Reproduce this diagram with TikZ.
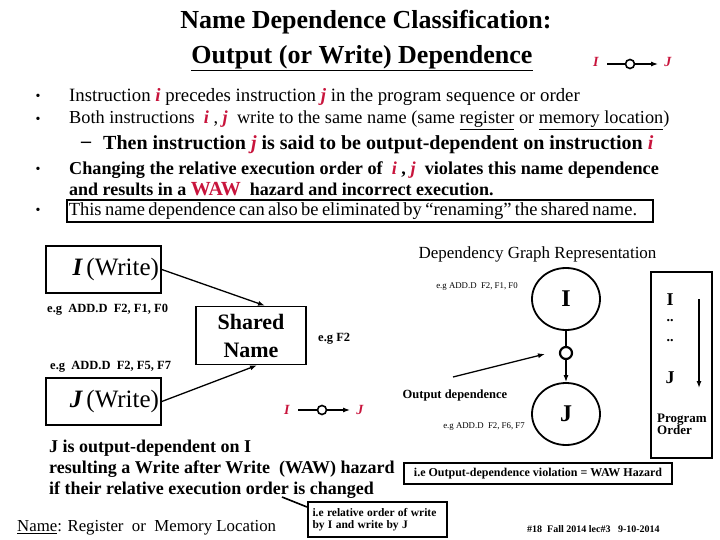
\documentclass[tikz,border=0pt]{standalone}
\usepackage{fontspec}
\setmainfont{Liberation Serif}
\usetikzlibrary{arrows.meta,shapes.geometric,calc}
\definecolor{hred}{RGB}{200,20,60}
\newcommand{\rd}[1]{\textcolor{hred}{\textbf{\textit{#1}}}}
\newcommand{\fs}[1]{\fontsize{#1}{#1}\selectfont}
\tikzset{
  txt/.style={inner sep=0pt, anchor=west},
  boxed/.style={draw, line width=1.6pt, inner sep=0pt},
  arr/.style={-{Latex[length=7pt,width=5pt]}, line width=1.3pt},
  smallo/.style={circle, draw, line width=1.6pt, inner sep=0pt, minimum size=9pt},
  bignode/.style={ellipse, draw, line width=1.8pt, inner sep=0pt, minimum width=68pt, minimum height=62pt, font=\fs{24}\bfseries},
}
\begin{document}
\begin{tikzpicture}[x=1pt,y=-1pt]
\useasboundingbox (0,0) rectangle (720,540);
% title
\node[inner sep=0pt] (t1) at (366,22) {\fs{26}\bfseries Name Dependence Classification:};
\node[inner sep=0pt] (t2) at (362,58) {\fs{26}\bfseries \underline{Output (or Write) Dependence}};
% top glyph
\node[inner sep=0pt] (ti) at (596,62) {\fs{14}\rd{I}};
\node[inner sep=0pt] (tj) at (668,62) {\fs{14}\rd{J}};
\node[smallo] (tc) at (630,64) {};
\draw[line width=1.3pt] ($(ti.east)+(8,2)$) -- (tc);
\draw[arr] (tc) -- ($(tj.west)+(-6,2)$);
% bullets
\node[inner sep=0pt] (b1) at (38,97) {\fs{14}•};
\node[txt] (l1) at (69,97) {\fs{18.8}Instruction \rd{i} precedes instruction \rd{j} in the program sequence or order};
\node[inner sep=0pt] (b2) at (38,120) {\fs{14}•};
\node[txt] (l2) at (69,120) {\fs{18.3}Both instructions \ \rd{i} , \rd{j} \ write to the same name (same \underline{register} or \underline{memory location})};
\node[inner sep=0pt] (b3) at (86,145) {\fs{20}\bfseries –};
\node[txt] (l3) at (103,145) {\fs{20}\bfseries Then instruction \rd{j} is said to be output-dependent on instruction \rd{i}};
\node[inner sep=0pt] (b4) at (38,170) {\fs{14}•};
\node[txt] (l4) at (69,170) {\fs{18.2}\bfseries Changing the relative execution order of \ \rd{i} , \rd{j} \ violates this name dependence};
\node[txt] (l5) at (69,189) {\fs{18}\bfseries and results in a \textcolor{hred}{\fs{20}WAW} \ hazard and incorrect execution.};
\node[inner sep=0pt] (b5) at (38,211) {\fs{14}•};
\node[boxed, anchor=west, minimum width=586pt, minimum height=22pt, text width=582pt, align=left] (l6) at (66,211) {\fs{18.5}This name dependence can also be eliminated by “renaming” the shared name.};
% left diagram
\node[boxed, minimum width=115pt, minimum height=47pt, text width=111pt, align=right] (iw) at (103.5,269.5) {\fs{25}\textbf{\textit{I}} (Write)};
\node[boxed, minimum width=115pt, minimum height=47pt, text width=111pt, align=right] (jw) at (103.5,401.5) {\fs{25}\textbf{\textit{J}} (Write)};
\node[boxed, minimum width=110pt, minimum height=58pt, align=center, font=\fontsize{22}{28}\selectfont\bfseries] (sh) at (251,335.5) {Shared\\Name};
\node[txt] (eg1) at (47,310) {\fs{12.5}\bfseries e.g \ ADD.D \ F2, F1, F0};
\node[txt] (eg2) at (50,367) {\fs{12.5}\bfseries e.g \ ADD.D \ F2, F5, F7};
\node[txt] (eg3) at (318,339) {\fs{12.5}\bfseries e.g F2};
\draw[arr] (iw.east) -- ($(sh.north)+(14,0)$);
\draw[arr] (jw.east) -- ($(sh.south)+(6,0)$);
% middle glyph
\node[inner sep=0pt] (mi) at (287,410) {\fs{14}\rd{I}};
\node[inner sep=0pt] (mj) at (360,410) {\fs{14}\rd{J}};
\node[smallo] (mc) at (322,410) {};
\draw[line width=1.3pt] ($(mi.east)+(8,0)$) -- (mc);
\draw[arr] (mc) -- ($(mj.west)+(-6,0)$);
% dependency graph
\node[inner sep=0pt] (dg) at (537.5,254) {\fs{17}Dependency Graph Representation};
\node[inner sep=0pt] (eg4) at (477,287) {\fs{8.8}e.g ADD.D \ F2, F1, F0};
\node[inner sep=0pt] (eg5) at (484,427) {\fs{8.8}e.g ADD.D \ F2, F6, F7};
\node[bignode] (gi) at (566,299) {I};
\node[bignode] (gj) at (566,414) {J};
\node[circle, draw, line width=2.2pt, inner sep=0pt, minimum size=12pt] (oc) at (566,353) {};
\draw[line width=1.6pt] (gi) -- (oc);
\draw[arr] (oc) -- (gj);
\node[inner sep=0pt] (od) at (455,395) {\fs{12.5}\bfseries Output dependence};
\coordinate (oa) at (453,377);
\coordinate (ob) at (545,354);
\draw[arr] (oa) -- (ob);
% program order box
\node[boxed, minimum width=61pt, minimum height=186pt] (po) at (681.5,365) {};
\node[inner sep=0pt] (pi) at (670,300) {\fs{18}\bfseries I};
\node[inner sep=0pt] (pd1) at (670,321) {\fs{14}\bfseries ..};
\node[inner sep=0pt] (pd2) at (670,341) {\fs{14}\bfseries ..};
\node[inner sep=0pt] (pj) at (670,378) {\fs{18}\bfseries J};
\coordinate (pa) at (699,299);
\coordinate (pb) at (699,388);
\draw[arr] (pa) -- (pb);
\node[inner sep=0pt, align=left] (pt) at (682,424) {\fs{13}\bfseries Program\\\fs{13}\bfseries Order};
% bottom text
\node[txt] (c1) at (49,448) {\fs{18}\bfseries J is output-dependent on I};
\node[txt] (c2) at (49,469) {\fs{18}\bfseries resulting a Write after Write \ (WAW) hazard};
\node[txt] (c3) at (49,490) {\fs{18}\bfseries if their relative execution order is changed};
\node[boxed, minimum width=268pt, minimum height=21pt] (wb) at (538,473.5) {\fs{12}\bfseries i.e Output-dependence violation = WAW Hazard};
\node[boxed, minimum width=139pt, minimum height=35pt, text width=130pt, align=left] (rb) at (377.5,519.5) {\fs{11.5}\bfseries i.e relative order of write\\\fs{11.5}\bfseries by I and write by J};
\coordinate (la) at (282,497);
\coordinate (lb) at (307,507);
\draw[line width=1.6pt] (la) -- (lb);
\node[txt] (nm) at (17,528) {\fs{16.8}\underline{Name}: Register \ or \ Memory Location};
\node[txt] (ft) at (527,529) {\fs{10}\bfseries \#18 \ Fall 2014 lec\#3 \ \ 9-10-2014};
\end{tikzpicture}
\end{document}
